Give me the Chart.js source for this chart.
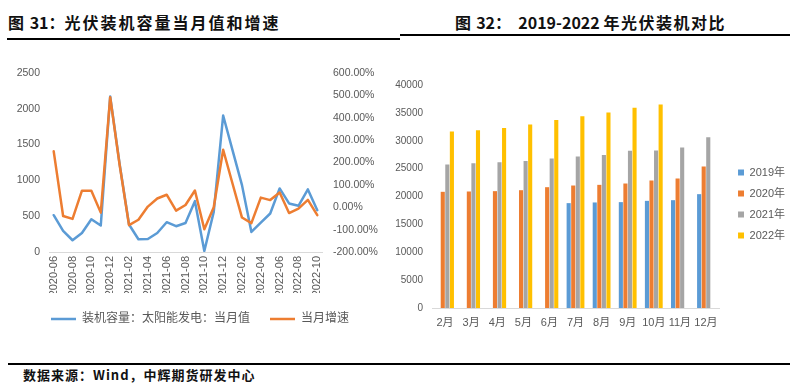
<!DOCTYPE html>
<html lang="zh">
<head>
<meta charset="UTF-8">
<title>光伏装机容量当月值和增速 / 2019-2022年光伏装机对比</title>
<script src="https://cdn.jsdelivr.net/npm/chart.js"></script>
<style>
body {
  margin: 0;
  width: 799px;
  height: 388px;
  background: #ffffff;
  position: relative;
  overflow: hidden;
  font-family: "Noto Sans CJK SC", "Liberation Sans", sans-serif;
  color: #111;
}
.title {
  position: absolute;
  font-weight: 700;
  font-size: 16px;
  line-height: 20px;
  white-space: nowrap;
}
#t1 .cj { letter-spacing: 2px; }
#t2 .cj { letter-spacing: 1.5px; }
#t1 { left: 8px; top: 12px; }
#t2 { left: 455px; top: 12px; }
.rule { position: absolute; height: 2px; background: #000; }
#box1 { position: absolute; left: 0; top: 55px; width: 400px; height: 280px; }
#box2 { position: absolute; left: 385px; top: 55px; width: 414px; height: 280px; }
#src {
  position: absolute;
  left: 23px;
  top: 367px;
  font-size: 13px;
  line-height: 16px;
  font-weight: 700;
  letter-spacing: 1px;
  white-space: nowrap;
}
</style>
</head>
<body>
<div class="title" id="t1"><span class="cj">图</span> 31：<span class="cj">光伏装机容量当月值和增速</span></div>
<div class="title" id="t2"><span class="cj">图</span> 32：&nbsp;&nbsp;2019-2022 <span class="cj">年光伏装机对比</span></div>
<div class="rule" style="left:7px; top:38px; width:393px;"></div>
<div class="rule" style="left:400px; top:34px; width:390px;"></div>

<div id="box1"><canvas id="lineChart"></canvas></div>
<div id="box2"><canvas id="barChart"></canvas></div>

<div class="rule" style="left:8px; top:363px; width:782px;"></div>
<div id="src">数据来源：Wind，中辉期货研发中心</div>

<script>
// 图31 数据：装机容量（太阳能发电，当月值）与当月增速
const months = [
  '2020-06', '2020-07', '2020-08', '2020-09', '2020-10', '2020-11', '2020-12',
  '2021-01', '2021-02', '2021-03', '2021-04', '2021-05', '2021-06', '2021-07',
  '2021-08', '2021-09', '2021-10', '2021-11', '2021-12', '2022-01', '2022-02',
  '2022-03', '2022-04', '2022-05', '2022-06', '2022-07', '2022-08', '2022-09',
  '2022-10'
];
const capacity = [514, 294, 164, 266, 458, 370, 2172, 1230, 384, 178, 182, 266, 416, 360,
  405, 710, 15, 561, 1906, 1420, 934, 280, 411, 538, 888, 678, 645, 874, 584];
const growth = [250, -39, -52, 74, 74, -24, 492, 190, -80, -56, 3, 39, 56, -15,
  10, 75, -98, 0, 257, 105, -46, -71, 43, 32, 66, -26, -6, 33, -35];

// 图32 数据：2019-2022年累计装机（逐月）
const barMonths = ['2月', '3月', '4月', '5月', '6月', '7月', '8月', '9月', '10月', '11月', '12月'];
const y2019 = [null, null, null, null, null, 18810, 18930, 18990, 19220, 19340, 20420];
const y2020 = [20840, 20900, 20960, 21130, 21670, 21970, 22090, 22330, 22870, 23220, 25370];
const y2021 = [25730, 25970, 26150, 26390, 26810, 27160, 27460, 28200, 28240, 28780, 30630];
const y2022 = [31640, 31880, 32300, 32900, 33730, 34390, 35050, 35940, 36480, null, null];

const tickColor = '#595959';
const axisColor = '#d9d9d9';
Chart.defaults.font.family = '"Liberation Sans", "Noto Sans CJK SC", sans-serif';
Chart.defaults.color = tickColor;

new Chart(document.getElementById('lineChart'), {
  type: 'line',
  data: {
    labels: months,
    datasets: [
      {
        label: '装机容量：太阳能发电：当月值',
        data: capacity,
        yAxisID: 'y',
        borderColor: '#5B9BD5',
        backgroundColor: '#5B9BD5',
        borderWidth: 2.5,
        borderJoinStyle: 'round',
        borderCapStyle: 'round',
        pointRadius: 0,
        order: 2
      },
      {
        label: '当月增速',
        data: growth,
        yAxisID: 'y1',
        borderColor: '#ED7D31',
        backgroundColor: '#ED7D31',
        borderWidth: 2.5,
        borderJoinStyle: 'round',
        borderCapStyle: 'round',
        pointRadius: 0,
        order: 1
      }
    ]
  },
  options: {
    responsive: true,
    maintainAspectRatio: false,
    animation: false,
    layout: { padding: { top: 18, left: 0, right: 0, bottom: 0 } },
    plugins: {
      tooltip: { enabled: false },
      legend: {
        position: 'bottom',
        labels: {
          usePointStyle: true,
          pointStyle: 'line',
          pointStyleWidth: 25,
          padding: 20,
          color: tickColor,
          font: { size: 12 },
          sort: (a, b) => a.datasetIndex - b.datasetIndex
        }
      }
    },
    scales: {
      x: {
        offset: true,
        grid: { display: false, drawTicks: false },
        border: { color: axisColor },
        ticks: {
          autoSkip: false,
          maxRotation: 90,
          minRotation: 90,
          padding: 4,
          font: { size: 11 },
          callback: function (val, idx) {
            return idx % 2 === 0 ? this.getLabelForValue(val) : '';
          }
        },
        afterFit: s => { s.height = 41; }
      },
      y: {
        position: 'left',
        min: 0,
        max: 2500,
        grid: { display: false, drawTicks: false },
        border: { display: false },
        ticks: { stepSize: 500, padding: 9, font: { size: 10.5 }, callback: v => String(v) },
        afterFit: s => { s.width = 49; }
      },
      y1: {
        position: 'right',
        min: -200,
        max: 600,
        grid: { display: false, drawTicks: false },
        border: { display: false },
        ticks: {
          stepSize: 100,
          padding: 11,
          font: { size: 10.5 },
          callback: v => v.toFixed(2) + '%'
        },
        afterFit: s => { s.width = 78; }
      }
    }
  }
});

new Chart(document.getElementById('barChart'), {
  type: 'bar',
  data: {
    labels: barMonths,
    datasets: [
      { label: '2019年', data: y2019, backgroundColor: '#5B9BD5' },
      { label: '2020年', data: y2020, backgroundColor: '#ED7D31' },
      { label: '2021年', data: y2021, backgroundColor: '#A5A5A5' },
      { label: '2022年', data: y2022, backgroundColor: '#FFC000' }
    ]
  },
  options: {
    responsive: true,
    maintainAspectRatio: false,
    animation: false,
    categoryPercentage: 0.7,
    barPercentage: 0.9,
    layout: { padding: { top: 30, left: 0, right: 4, bottom: 0 } },
    plugins: {
      tooltip: { enabled: false },
      legend: {
        position: 'right',
        align: 'start',
        // empty title only used to push the items down
        title: { display: true, text: '', font: { size: 10 }, padding: { top: 60, bottom: 0 } },
        labels: {
          boxWidth: 6,
          boxHeight: 6,
          padding: 10,
          color: tickColor,
          font: { size: 11 }
        }
      }
    },
    scales: {
      x: {
        grid: { display: false, drawTicks: false },
        border: { color: axisColor },
        ticks: { padding: 8, autoSkip: false, maxRotation: 0, font: { size: 11 } },
        afterFit: s => { s.height = 27; }
      },
      y: {
        min: 0,
        max: 40000,
        grid: { display: false, drawTicks: false },
        border: { display: false },
        ticks: { stepSize: 5000, padding: 9, font: { size: 10 }, callback: v => String(v) },
        afterFit: s => { s.width = 47; }
      },
      // spacer between plot and legend
      gap: {
        position: 'right',
        grid: { display: false, drawTicks: false },
        border: { display: false },
        ticks: { display: false },
        afterFit: s => { s.width = 9; }
      }
    }
  }
});
</script>
</body>
</html>
